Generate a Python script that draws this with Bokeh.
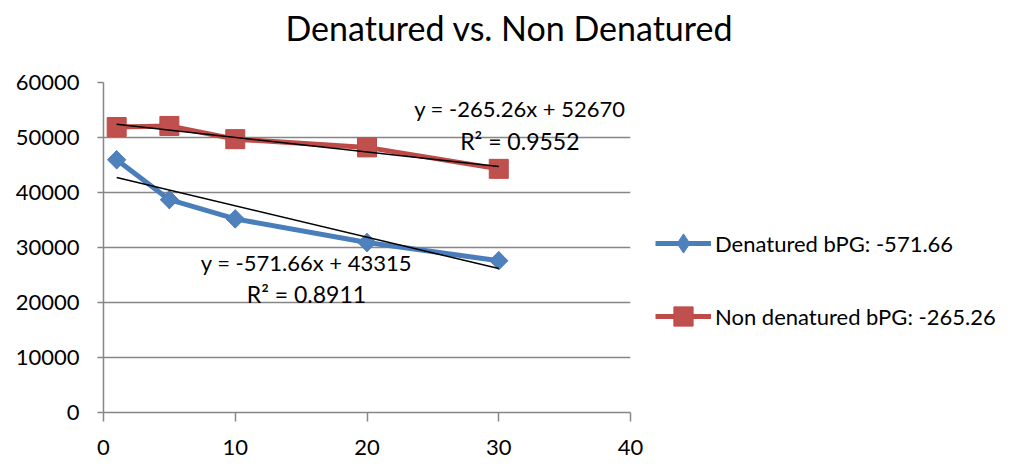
import math
from bokeh.plotting import figure
from bokeh.models import (ColumnDataSource, Range1d, Legend, LegendItem, FixedTicker, Label,
                          Title)
from bokeh.embed import file_html
from bokeh.resources import INLINE

# Measurements at each time point
times = [1, 5, 10, 20, 30]
denatured = [45950, 38700, 35200, 30900, 27600]
non_denatured = [51900, 52100, 49700, 48200, 44300]

# Linear trend coefficients (slope, intercept, R squared)
den_fit = (-571.66, 43315, 0.8911)
non_fit = (-265.26, 52670, 0.9552)

x_ticks = [0, 10, 20, 30, 40]
y_ticks = [0, 10000, 20000, 30000, 40000, 50000, 60000]

FONT = "Lato"
GRID = "#868686"
BLUE_LINE, BLUE_FILL = "#4A7EBB", "#4F81BD"
RED_LINE, RED_FILL = "#BE4B48", "#C0504D"

p = figure(frame_width=527, frame_height=330, output_backend="svg", toolbar_location=None,
           x_range=Range1d(0, 40), y_range=Range1d(0, 60000),
           min_border_left=103, min_border_right=0, min_border_top=82,
           min_border_bottom=56)
p.outline_line_color = None
p.background_fill_color = "white"
p.border_fill_color = "white"

p.title.text = "Denatured vs. Non Denatured"
p.title.text_font = FONT
p.title.text_font_style = "normal"
p.title.text_font_size = "34px"
p.title.text_color = "black"
p.title.align = "left"
p.title.offset = 182
p.title.vertical_align = "bottom"
p.title.standoff = 0

# Blank band between the title and the plot area
p.add_layout(Title(text=" ", text_font_size="10px", standoff=22), "above")

p.xgrid.grid_line_color = None
p.ygrid.grid_line_color = GRID
p.ygrid.grid_line_width = 1.5
p.ygrid.ticker = FixedTicker(ticks=y_ticks)

for ax in (p.xaxis[0], p.yaxis[0]):
    ax.axis_line_color = GRID
    ax.axis_line_width = 1.5
    ax.major_tick_line_color = GRID
    ax.major_tick_line_width = 1.5
    ax.minor_tick_line_color = None
    ax.major_tick_in = 0
    ax.major_label_text_font = FONT
    ax.major_label_text_font_size = "22px"
    ax.major_label_text_color = "black"

p.xaxis.ticker = FixedTicker(ticks=x_ticks)
p.yaxis.ticker = FixedTicker(ticks=y_ticks)
p.xaxis.major_tick_out = 9
p.yaxis.major_tick_out = 6
p.xaxis.major_label_standoff = 18
p.yaxis.major_label_standoff = 18

src_d = ColumnDataSource(dict(x=times, y=denatured))
src_n = ColumnDataSource(dict(x=times, y=non_denatured))

ld = p.line("x", "y", source=src_d, line_color=BLUE_LINE, line_width=5)
md = p.scatter("x", "y", source=src_d, marker="square", size=13, angle=math.pi / 4,
               fill_color=BLUE_FILL, line_color=BLUE_LINE)
# Diamond markers on the same points (they sit inside the rotated squares and
# give the legend its diamond swatch, since the legend draws markers unrotated)
md_key = p.scatter("x", "y", source=src_d, marker="diamond", size=18,
                   fill_color=BLUE_FILL, line_color=BLUE_FILL)
ln = p.line("x", "y", source=src_n, line_color=RED_LINE, line_width=5)
mn = p.scatter("x", "y", source=src_n, marker="square", size=19,
               fill_color=RED_FILL, line_color=RED_LINE)

# Trend lines over the measured span
x0, x1 = times[0], times[-1]
for slope, icpt, _ in (den_fit, non_fit):
    p.line([x0, x1], [slope * x0 + icpt, slope * x1 + icpt],
           line_color="black", line_width=1.5)

def fit_labels(fit, x, y_eq, y_r2):
    slope, icpt, r2 = fit
    eq = f"y = {slope:.2f}x + {icpt:.0f}"
    p.add_layout(Label(x=x, y=y_eq, text=eq, text_font=FONT, text_font_size="22px",
                       text_color="black", text_align="center", text_baseline="middle"))
    p.add_layout(Label(x=x, y=y_r2, text=f"R² = {r2:.4f}", text_font=FONT,
                       text_font_size="23px", text_color="black",
                       text_align="center", text_baseline="middle"))

fit_labels(non_fit, 31.6, 55200, 49400)
fit_labels(den_fit, 15.4, 27200, 21600)

legend = Legend(items=[
    LegendItem(label=f"Denatured bPG: {den_fit[0]:.2f}", renderers=[ld, md_key]),
    LegendItem(label=f"Non denatured bPG: {non_fit[0]:.2f}", renderers=[ln, mn]),
], location=(25, 72))
legend.border_line_color = None
legend.background_fill_alpha = 0
legend.label_text_font = FONT
legend.label_text_font_size = "22px"
legend.label_text_color = "black"
legend.glyph_width = 56
legend.glyph_height = 48
legend.spacing = 25
legend.label_standoff = 4
legend.padding = 0
legend.margin = 0
p.add_layout(legend, "right")

open("out.html", "w").write(file_html(p, INLINE))
